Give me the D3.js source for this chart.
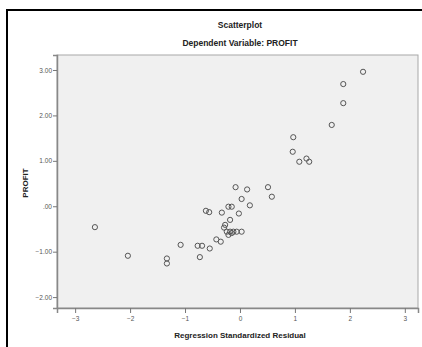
<!DOCTYPE html>
<html>
<head>
<meta charset="utf-8">
<script src="https://cdn.jsdelivr.net/npm/d3@7"></script>
<style>
  body { margin: 0; background: #fff; }
  svg { display: block; font-family: Arial, "Liberation Sans", sans-serif; }
</style>
</head>
<body>
<div id="chart"></div>
<script>
// Regression standardized residual (x) vs PROFIT (y)
const residuals = [-2.64, -2.04, -1.33, -1.33, -1.08, -0.77, -0.69, -0.73, -0.55, -0.43, -0.35,
  -0.62, -0.56, -0.33, -0.21, -0.15, -0.02, -0.18, -0.27, -0.29,
  -0.24, -0.18, -0.12, -0.06, 0.03, -0.21, -0.15,
  -0.08, 0.13, 0.51, 0.58, 0.03, 0.18,
  0.97, 0.96, 1.08, 1.21, 1.26, 1.67, 1.88, 1.88, 2.24];
const profit = [-0.46, -1.09, -1.15, -1.26, -0.85, -0.87, -0.87, -1.12, -0.93, -0.73, -0.78,
  -0.10, -0.13, -0.14, -0.01, -0.01, -0.16, -0.30, -0.41, -0.47,
  -0.56, -0.56, -0.56, -0.56, -0.56, -0.63, -0.59,
  0.42, 0.37, 0.42, 0.21, 0.16, 0.02,
  1.52, 1.20, 0.98, 1.05, 0.98, 1.79, 2.27, 2.69, 2.96];
const xTicks = [-3, -2, -1, 0, 1, 2, 3];
const yTicks = [3, 2, 1, 0, -1, -2];

const width = 422, height = 347;
const plot = { left: 57, top: 55, right: 418, bottom: 308 };

const svg = d3.select('#chart').append('svg')
  .attr('width', width)
  .attr('height', height);

// outer frame
svg.append('rect')
  .attr('x', 7).attr('y', 10)
  .attr('width', width + 10).attr('height', height + 10)
  .attr('fill', 'none')
  .attr('stroke', '#000')
  .attr('stroke-width', 2);

const x = d3.scaleLinear().domain([-3.33, 3.24]).range([plot.left, plot.right]);
const y = d3.scaleLinear().domain([-2.24, 3.33]).range([plot.bottom, plot.top]);

svg.append('rect')
  .attr('x', plot.left).attr('y', plot.top)
  .attr('width', plot.right - plot.left).attr('height', plot.bottom - plot.top)
  .attr('fill', '#f0f0f0')
  .attr('stroke', '#a8a8a8');

// axes
const yAxis = svg.append('g')
  .attr('transform', `translate(${plot.left},0)`)
  .call(d3.axisLeft(y).tickValues(yTicks).tickSize(4)
    .tickFormat(d => d === 0 ? '.00' : d3.format('.2f')(d)));
const xAxis = svg.append('g')
  .attr('transform', `translate(0,${plot.bottom})`)
  .call(d3.axisBottom(x).tickValues(xTicks).tickSize(5).tickFormat(d3.format('d')));

[xAxis, yAxis].forEach(g => {
  g.select('.domain').attr('stroke', '#888').attr('stroke-width', 1.5);
  g.selectAll('.tick line').attr('stroke', '#777');
  g.selectAll('.tick text').attr('fill', '#555').attr('font-size', 6.5);
});
yAxis.selectAll('.tick text').attr('x', -5);

// points
svg.append('g')
  .selectAll('circle')
  .data(residuals.map((r, i) => [r, profit[i]]))
  .enter()
  .append('circle')
  .attr('cx', d => x(d[0]))
  .attr('cy', d => y(d[1]))
  .attr('r', 2.6)
  .attr('fill', 'none')
  .attr('stroke', '#555')
  .attr('stroke-width', 1);

// titles
svg.append('text')
  .attr('x', 240).attr('y', 28)
  .attr('text-anchor', 'middle')
  .attr('font-size', 8.5).attr('font-weight', 'bold').attr('fill', '#222')
  .text('Scatterplot');
svg.append('text')
  .attr('x', 240).attr('y', 46)
  .attr('text-anchor', 'middle')
  .attr('font-size', 8.5).attr('font-weight', 'bold').attr('fill', '#222')
  .text('Dependent Variable: PROFIT');
svg.append('text')
  .attr('transform', 'translate(25,183) rotate(-90)')
  .attr('text-anchor', 'middle')
  .attr('dy', '0.35em')
  .attr('font-size', 8).attr('font-weight', 'bold').attr('fill', '#222')
  .text('PROFIT');
svg.append('text')
  .attr('x', 240).attr('y', 338)
  .attr('text-anchor', 'middle')
  .attr('font-size', 8).attr('font-weight', 'bold').attr('fill', '#222')
  .text('Regression Standardized Residual');
</script>
</body>
</html>
